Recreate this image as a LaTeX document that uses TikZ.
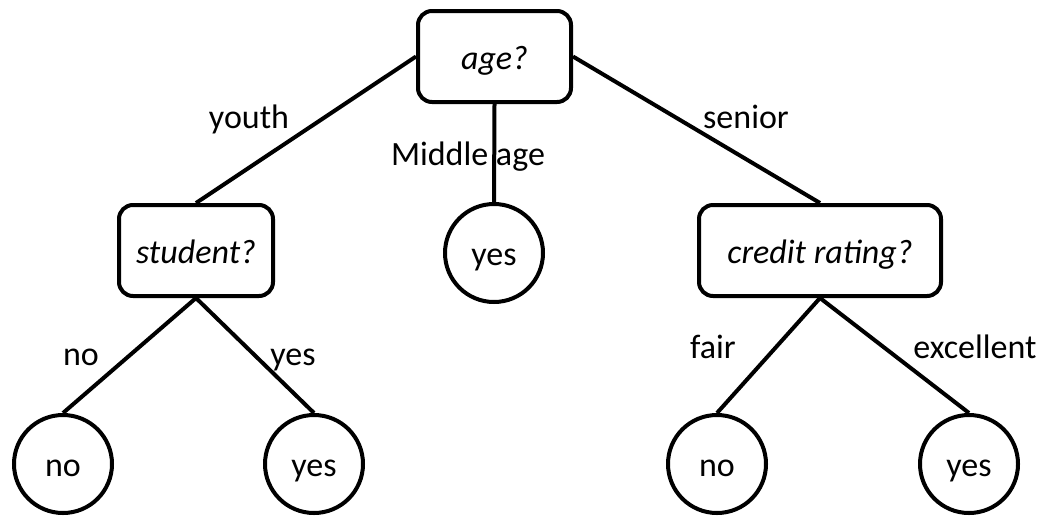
\documentclass[tikz,border=0pt]{standalone}
\usepackage{fontspec}
\setmainfont{Carlito}
\begin{document}
\begin{tikzpicture}[x=1pt,y=-1pt,
  every node/.style={font=\fontsize{34}{40}\selectfont},
  test/.style={draw,line width=4pt,rounded corners=14pt,minimum height=91pt,inner sep=0pt,
    text height=25pt,text depth=0pt,font=\fontsize{34}{40}\selectfont\itshape},
  leaf/.style={draw,circle,line width=4pt,minimum size=98pt,inner sep=0pt,
    text height=24pt,text depth=0pt},
  edge/.style={line width=4pt},
  lbl/.style={anchor=base,inner sep=0pt}]
\useasboundingbox (0,0) rectangle (1043,515);
% decision nodes
\node[test,minimum width=153pt] (age) at (494.5,56.5) {age?};
\node[test,minimum width=154pt] (student) at (196,250.5) {student?};
\node[test,minimum width=242pt] (credit) at (820,250.5) {credit rating?};
% leaves
\node[leaf] (mid) at (494,253) {yes};
\node[leaf] (sno) at (63,464) {no};
\node[leaf] (syes) at (314,464) {yes};
\node[leaf] (cno) at (717,464) {no};
\node[leaf] (cyes) at (969,464) {yes};
% branch labels
\node[lbl] (lyouth) at (249,128) {youth};
\node[lbl] (lmid) at (468,165) {Middle age};
\node[lbl] (lsenior) at (746,128) {senior};
\node[lbl] (lno) at (81,365) {no};
\node[lbl] (lyes) at (293,365) {yes};
\node[lbl] (lfair) at (713,358) {fair};
\node[lbl] (lexc) at (975,358) {excellent};
% branches
\draw[edge] (age.west) -- (student.north);
\draw[edge] (age.south) -- (mid.north);
\draw[edge] (age.east) -- (credit.north);
\draw[edge] (student.south) -- (sno.north);
\draw[edge] (student.south) -- (syes.north);
\draw[edge] (credit.south) -- (cno.north);
\draw[edge] (credit.south) -- (cyes.north);
\end{tikzpicture}
\end{document}
